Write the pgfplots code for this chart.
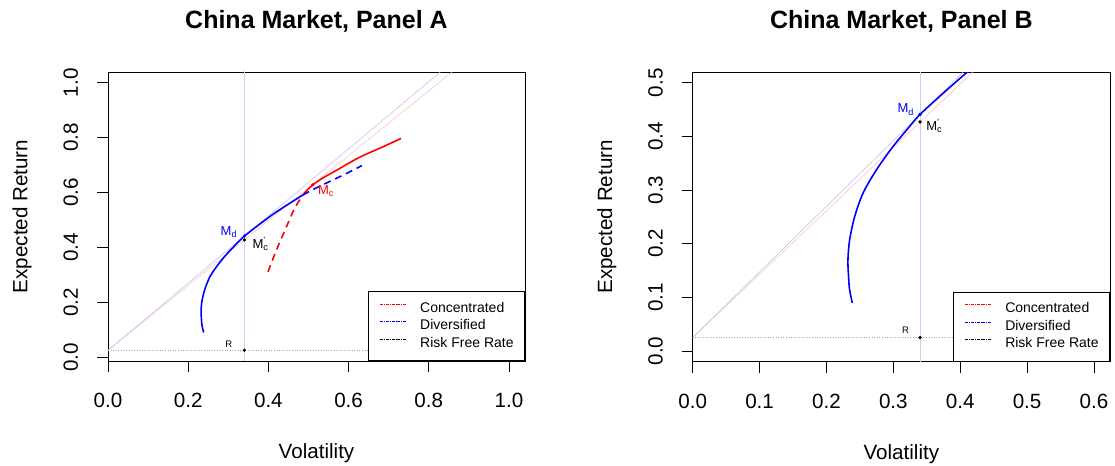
\documentclass[border=0pt]{standalone}
\usepackage{fontspec}
\setmainfont{Liberation Sans}
\usepackage{pgfplots}
\pgfplotsset{compat=1.18}

\definecolor{rblue}{RGB}{0,0,255}
\definecolor{rred}{RGB}{255,0,0}
\definecolor{tanblue}{RGB}{185,185,255}
\definecolor{tanred}{RGB}{255,185,185}
\definecolor{vline}{RGB}{205,205,250}
\definecolor{rfgray}{RGB}{165,165,165}

\tikzset{lab/.style={font=\fontsize{13bp}{15bp}\selectfont, inner sep=0pt}}

\pgfplotsset{
  rstyle/.style={
    scale only axis,
    axis line style={line width=0.8bp},
    tick align=outside, tick pos=left,
    major tick length=11bp,
    every tick/.style={black, line width=0.8bp},
    tick label style={font=\fontsize{20.6bp}{24bp}\selectfont},
    /pgf/number format/assume math mode=true,
    /pgf/number format/fixed, /pgf/number format/fixed zerofill,
    /pgf/number format/precision=1,
    xticklabel style={anchor=base}, xticklabel shift=36bp,
    yticklabel style={rotate=90, anchor=base}, yticklabel shift=19bp,
    label style={font=\fontsize{20.6bp}{24bp}\selectfont},
    xlabel style={at={(axis description cs:0.5,-0.339)}, anchor=base},
    ylabel style={at={(axis description cs:-0.1933,0.5)}, anchor=base},
    title style={at={(axis description cs:0.5,1.131)}, anchor=base,
      font=\bfseries\fontsize{25bp}{29bp}\selectfont},
    xlabel={Volatility}, ylabel={Expected Return},
    legend style={at={(1,0)}, anchor=south east, draw=black, line width=0.8bp,
      fill=white, font=\fontsize{14bp}{16bp}\selectfont,
      inner xsep=11bp, inner ysep=10.5bp, row sep=4.5bp, column sep=13.4bp,
      nodes={inner sep=0pt, text height=10bp, text depth=3bp}},
    legend cell align=left,
    legend image code/.code={\draw[##1, line width=0.5bp] (0bp,4.6bp) -- (26.6bp,4.6bp);},
  },
}

\begin{document}
\begin{tikzpicture}
\useasboundingbox (0,0) rectangle (1115bp,466bp);

% ---------------- Panel A ----------------
\begin{axis}[rstyle, at={(108bp,105bp)}, anchor=south west,
  width=417bp, height=289bp,
  xmin=0, xmax=1.04, ymin=-0.014, ymax=1.039,
  xtick={0,0.2,...,1.0}, ytick={0,0.2,...,1.0},
  title={China Market, Panel A}]
  \addlegendimage{rred, densely dashdotted}
  \addlegendentry{Concentrated}
  \addlegendimage{rblue, densely dashdotted}
  \addlegendentry{Diversified}
  \addlegendimage{black, densely dashdotted}
  \addlegendentry{Risk Free Rate}
  % reference lines
  \addplot[forget plot, vline, line width=0.4bp] coordinates {(0.34,-0.1) (0.34,1.2)};
  \addplot[forget plot, rfgray, dotted, line width=0.6bp] coordinates {(0,0.025) (1.04,0.025)};
  \addplot[forget plot, tanred, line width=0.5bp] coordinates {(0,0.025) (0.858,1.039)};
  \addplot[forget plot, tanblue, line width=0.5bp] coordinates {(0,0.025) (0.8288,1.039)};
  % concentrated frontier
  \addplot[forget plot, rred, line width=1.6bp, dash pattern=on 7bp off 5bp, smooth] coordinates {
    (0.399,0.311) (0.420,0.390) (0.445,0.475) (0.4655,0.542) (0.486,0.591)};
  \addplot[forget plot, rred, line width=1.6bp, smooth] coordinates {
    (0.486,0.591) (0.497,0.609) (0.511,0.628) (0.535,0.652) (0.57,0.681)
    (0.627,0.728) (0.685,0.766) (0.731,0.797)};
  % diversified frontier
  \addplot[forget plot, rblue, line width=1.6bp, dash pattern=on 7bp off 5bp, smooth] coordinates {
    (0.486,0.591) (0.52,0.617) (0.56,0.645) (0.60,0.673) (0.633,0.698)};
  \addplot[forget plot, rblue, line width=1.6bp, smooth] coordinates {
    (0.2386,0.0896) (0.2345,0.115) (0.2331,0.138) (0.2321,0.169) (0.2346,0.2065)
    (0.2421,0.25) (0.2545,0.2937) (0.2744,0.337) (0.2992,0.3806) (0.324,0.418)
    (0.34,0.441) (0.3688,0.474) (0.4096,0.5187) (0.445,0.553) (0.486,0.591)};
  % points
  \addplot[forget plot, only marks, mark=*, mark size=1.5bp, black] coordinates {(0.34,0.025) (0.34,0.427)};
  \addplot[forget plot, only marks, mark=*, mark size=1.5bp, rblue] coordinates {(0.34,0.441)};
  \addplot[forget plot, only marks, mark=*, mark size=1.5bp, rred] coordinates {(0.511,0.628)};
  \node[lab, rblue, anchor=east, xshift=-7bp, yshift=4bp] at (axis cs:0.34,0.441) {M\textsubscript{d}};
  \node[lab, black, anchor=west, xshift=8bp, yshift=-4bp] at (axis cs:0.34,0.427) {M\rlap{\textsuperscript{'}}\textsubscript{c}};
  \node[lab, rred, anchor=west, xshift=5bp, yshift=-6bp] at (axis cs:0.511,0.628) {M\textsubscript{c}};
  \node[lab, font=\fontsize{9.5bp}{11bp}\selectfont, anchor=east, xshift=-12bp, yshift=6.5bp] at (axis cs:0.34,0.025) {R};
\end{axis}

% ---------------- Panel B ----------------
\begin{axis}[rstyle, at={(692.7bp,104.3bp)}, anchor=south west,
  width=417.3bp, height=289.7bp,
  xmin=0, xmax=0.624, ymin=-0.02, ymax=0.52,
  xtick={0,0.1,...,0.6}, ytick={0,0.1,...,0.5},
  title={China Market, Panel B}]
  \addlegendimage{rred, densely dashdotted}
  \addlegendentry{Concentrated}
  \addlegendimage{rblue, densely dashdotted}
  \addlegendentry{Diversified}
  \addlegendimage{black, densely dashdotted}
  \addlegendentry{Risk Free Rate}
  \addplot[forget plot, vline, line width=0.4bp] coordinates {(0.34,-0.1) (0.34,0.6)};
  \addplot[forget plot, rfgray, dotted, line width=0.6bp] coordinates {(0,0.025) (0.624,0.025)};
  \addplot[forget plot, tanred, line width=0.5bp] coordinates {(0,0.025) (0.4188,0.52)};
  \addplot[forget plot, tanblue, line width=0.5bp] coordinates {(0,0.025) (0.4046,0.52)};
  \addplot[forget plot, rblue, line width=1.6bp, smooth] coordinates {
    (0.2386,0.0896) (0.2345,0.115) (0.2331,0.138) (0.2321,0.169) (0.2346,0.2065)
    (0.2421,0.25) (0.2545,0.2937) (0.2744,0.337) (0.2992,0.3806) (0.324,0.418)
    (0.34,0.441) (0.3688,0.474) (0.4096,0.5187) (0.445,0.553) (0.486,0.591)};
  \addplot[forget plot, only marks, mark=*, mark size=1.5bp, black] coordinates {(0.34,0.025) (0.34,0.427)};
  \addplot[forget plot, only marks, mark=*, mark size=1.5bp, rblue] coordinates {(0.34,0.441)};
  \node[lab, rblue, anchor=east, xshift=-6bp, yshift=5bp] at (axis cs:0.34,0.441) {M\textsubscript{d}};
  \node[lab, black, anchor=west, xshift=6bp, yshift=-4bp] at (axis cs:0.34,0.427) {M\rlap{\textsuperscript{'}}\textsubscript{c}};
  \node[lab, font=\fontsize{9.5bp}{11bp}\selectfont, anchor=east, xshift=-11bp, yshift=7bp] at (axis cs:0.34,0.025) {R};
\end{axis}
\end{tikzpicture}
\end{document}
